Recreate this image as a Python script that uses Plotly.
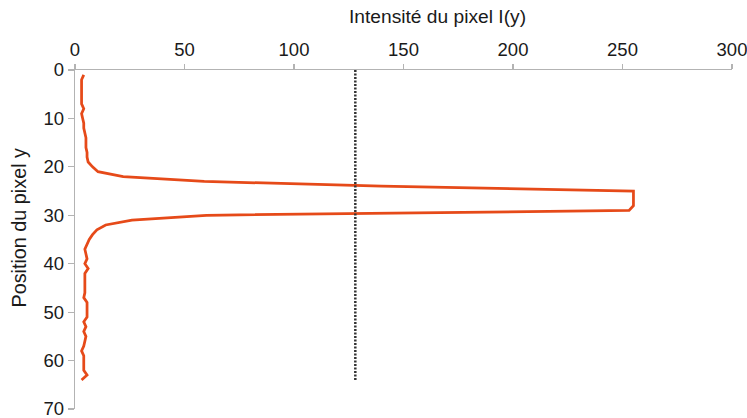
import plotly.graph_objects as go

# Data
positions = list(range(1, 65))
intensity = [
    4, 3, 3, 3, 3, 3, 3, 4, 3, 3.5,
    4, 4, 4.5, 5, 5, 5, 5.5, 5.5, 6, 8,
    10.5, 22, 59, 140, 255, 255, 255, 255, 253, 60,
    26, 14, 10, 8, 6.5, 5.5, 4.5, 5, 5.5, 4.5,
    6, 4.5, 4.5, 4.5, 4.5, 4.5, 4, 5.5, 5.5, 5.5,
    5.5, 4, 5, 4, 5, 4.5, 4, 3, 4, 4,
    4, 4, 5.5, 3,
]
threshold_x = [128, 128]
threshold_y = [0, 64]

x_ticks = [0, 50, 100, 150, 200, 250, 300]
y_ticks = [0, 10, 20, 30, 40, 50, 60, 70]

x_title = "Intensité du pixel I(y)"
y_title = "Position du pixel y"

FONT = "Liberation Sans"
AXIS_COLOR = "#b3b3b3"
TEXT_COLOR = "#1a1a1a"

fig = go.Figure()
fig.add_trace(go.Scatter(
    x=intensity, y=positions, mode="lines",
    line=dict(color="#E64A19", width=2.75),
    hoverinfo="skip", showlegend=False,
))
fig.add_trace(go.Scatter(
    x=threshold_x, y=threshold_y, mode="lines",
    line=dict(color="#333333", width=2.5, dash="2px,1.5px"),
    hoverinfo="skip", showlegend=False,
))

fig.update_layout(
    width=747, height=418,
    margin=dict(l=75, r=15, t=70, b=9, autoexpand=False),
    paper_bgcolor="white", plot_bgcolor="white",
    font=dict(family=FONT, size=19, color=TEXT_COLOR),
    xaxis=dict(
        side="top", range=[0, 300], tickvals=x_ticks,
        showgrid=False, zeroline=False, showline=True,
        linecolor=AXIS_COLOR, linewidth=1.2,
        ticks="outside", ticklen=5, tickcolor=AXIS_COLOR, tickwidth=1.2,
        tickfont=dict(size=18.5, color=TEXT_COLOR),
        ticklabeloverflow="allow", automargin=False,
    ),
    yaxis=dict(
        range=[70, 0], tickvals=y_ticks,
        showgrid=False, zeroline=False, showline=True,
        linecolor=AXIS_COLOR, linewidth=1.2,
        ticks="outside", ticklen=6, tickcolor=AXIS_COLOR, tickwidth=1.2,
        tickfont=dict(size=18.5, color=TEXT_COLOR),
        ticklabeloverflow="allow", automargin=False,
    ),
    annotations=[
        dict(text=x_title, xref="paper", yref="paper",
             x=(437 - 75) / 657, y=(70 - 17) / 339 + 1,
             xanchor="center", yanchor="middle", showarrow=False,
             font=dict(size=19.2, color=TEXT_COLOR)),
        dict(text=y_title, xref="paper", yref="paper",
             x=(18.5 - 75) / 657, y=1 - (228 - 70) / 339,
             xanchor="center", yanchor="middle", showarrow=False,
             textangle=-90,
             font=dict(size=19.8, color=TEXT_COLOR)),
    ],
)

fig.write_html(
    "out.html",
    config={"displayModeBar": False, "staticPlot": True},
    post_script="document.body.style.margin='0';"
                "document.documentElement.style.overflow='hidden';",
)
